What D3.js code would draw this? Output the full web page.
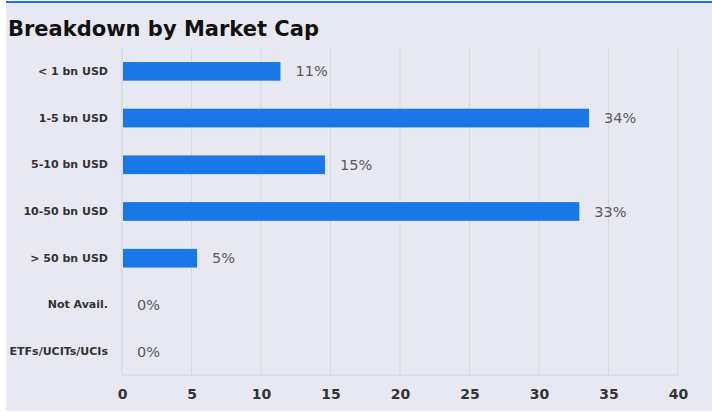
<!DOCTYPE html>
<html><head><meta charset="utf-8">
<script src="https://cdn.jsdelivr.net/npm/d3@7"></script>
<style>
html,body{margin:0;padding:0;background:#fff;}
svg{display:block;}
</style></head>
<body>
<svg id="chart" width="712" height="412"></svg>
<script>
const categories = ["< 1 bn USD","1-5 bn USD","5-10 bn USD","10-50 bn USD","> 50 bn USD","Not Avail.","ETFs/UCITs/UCIs"];
const values = [11.4, 33.6, 14.6, 32.9, 5.4, 0, 0];
const valueLabels = ["11%","34%","15%","33%","5%","0%","0%"];
const xTicks = [0,5,10,15,20,25,30,35,40];
const title = "Breakdown by Market Cap";

const svg = d3.select("#chart");
const W = 712, H = 412;
const m = {left:122, right:34, top:48, bottom:37};

svg.append("rect").attr("x",6).attr("y",2).attr("width",W-6).attr("height",409).attr("fill","#e8e8f2");
svg.append("rect").attr("x",6).attr("y",1).attr("width",W-6).attr("height",2).attr("fill","#1a73e8");

svg.append("text").attr("x",8).attr("y",36).text(title)
  .attr("font-family","'DejaVu Sans', sans-serif").attr("font-weight","bold")
  .attr("font-size",21).attr("fill","#111");

const x = d3.scaleLinear().domain([0,40]).range([m.left, W-m.right]);
const y = d3.scaleBand().domain(categories).range([m.top, H-m.bottom]).paddingInner(0.6).paddingOuter(0.3);

// gridlines
svg.append("g").selectAll("line").data(xTicks.slice(1)).join("line")
  .attr("x1",d=>x(d)).attr("x2",d=>x(d)).attr("y1",m.top).attr("y2",H-m.bottom)
  .attr("stroke","#d6d6de").attr("stroke-width",1);
// axis frame lines
svg.append("line").attr("x1",x(0)).attr("x2",x(0)).attr("y1",m.top).attr("y2",H-m.bottom).attr("stroke","#c6d3e6");
svg.append("line").attr("x1",x(0)).attr("x2",x(40)).attr("y1",H-m.bottom).attr("y2",H-m.bottom).attr("stroke","#c6d3e6");

// x axis labels
const xAxis = d3.axisBottom(x).tickValues(xTicks).tickSize(0).tickPadding(14);
const gx = svg.append("g").attr("transform",`translate(0,${H-m.bottom})`).call(xAxis);
gx.select(".domain").remove();
gx.selectAll("text").attr("font-family","'DejaVu Sans', sans-serif").attr("font-weight","bold")
  .attr("font-size",14).attr("fill","#333");

// y axis labels
const yAxis = d3.axisLeft(y).tickSize(0).tickPadding(14);
const gy = svg.append("g").attr("transform",`translate(${m.left},0)`).call(yAxis);
gy.select(".domain").remove();
gy.selectAll("text").attr("font-family","'DejaVu Sans', sans-serif").attr("font-weight","bold")
  .attr("font-size",11).attr("fill","#333");

// bars
svg.append("g").selectAll("rect").data(categories).join("rect")
  .attr("x",x(0)+1).attr("y",d=>y(d))
  .attr("width",(d,i)=>Math.max(0,x(values[i])-x(0)-1)).attr("height",y.bandwidth())
  .attr("fill","#1a77e8");

// value labels
svg.append("g").selectAll("text").data(categories).join("text")
  .attr("x",(d,i)=>x(values[i])+15).attr("y",d=>y(d)+y.bandwidth()/2)
  .attr("dy","0.35em").text((d,i)=>valueLabels[i])
  .attr("font-family","'DejaVu Sans', sans-serif").attr("font-size",14.5).attr("fill","#5a5a5a");
</script>
</body></html>
